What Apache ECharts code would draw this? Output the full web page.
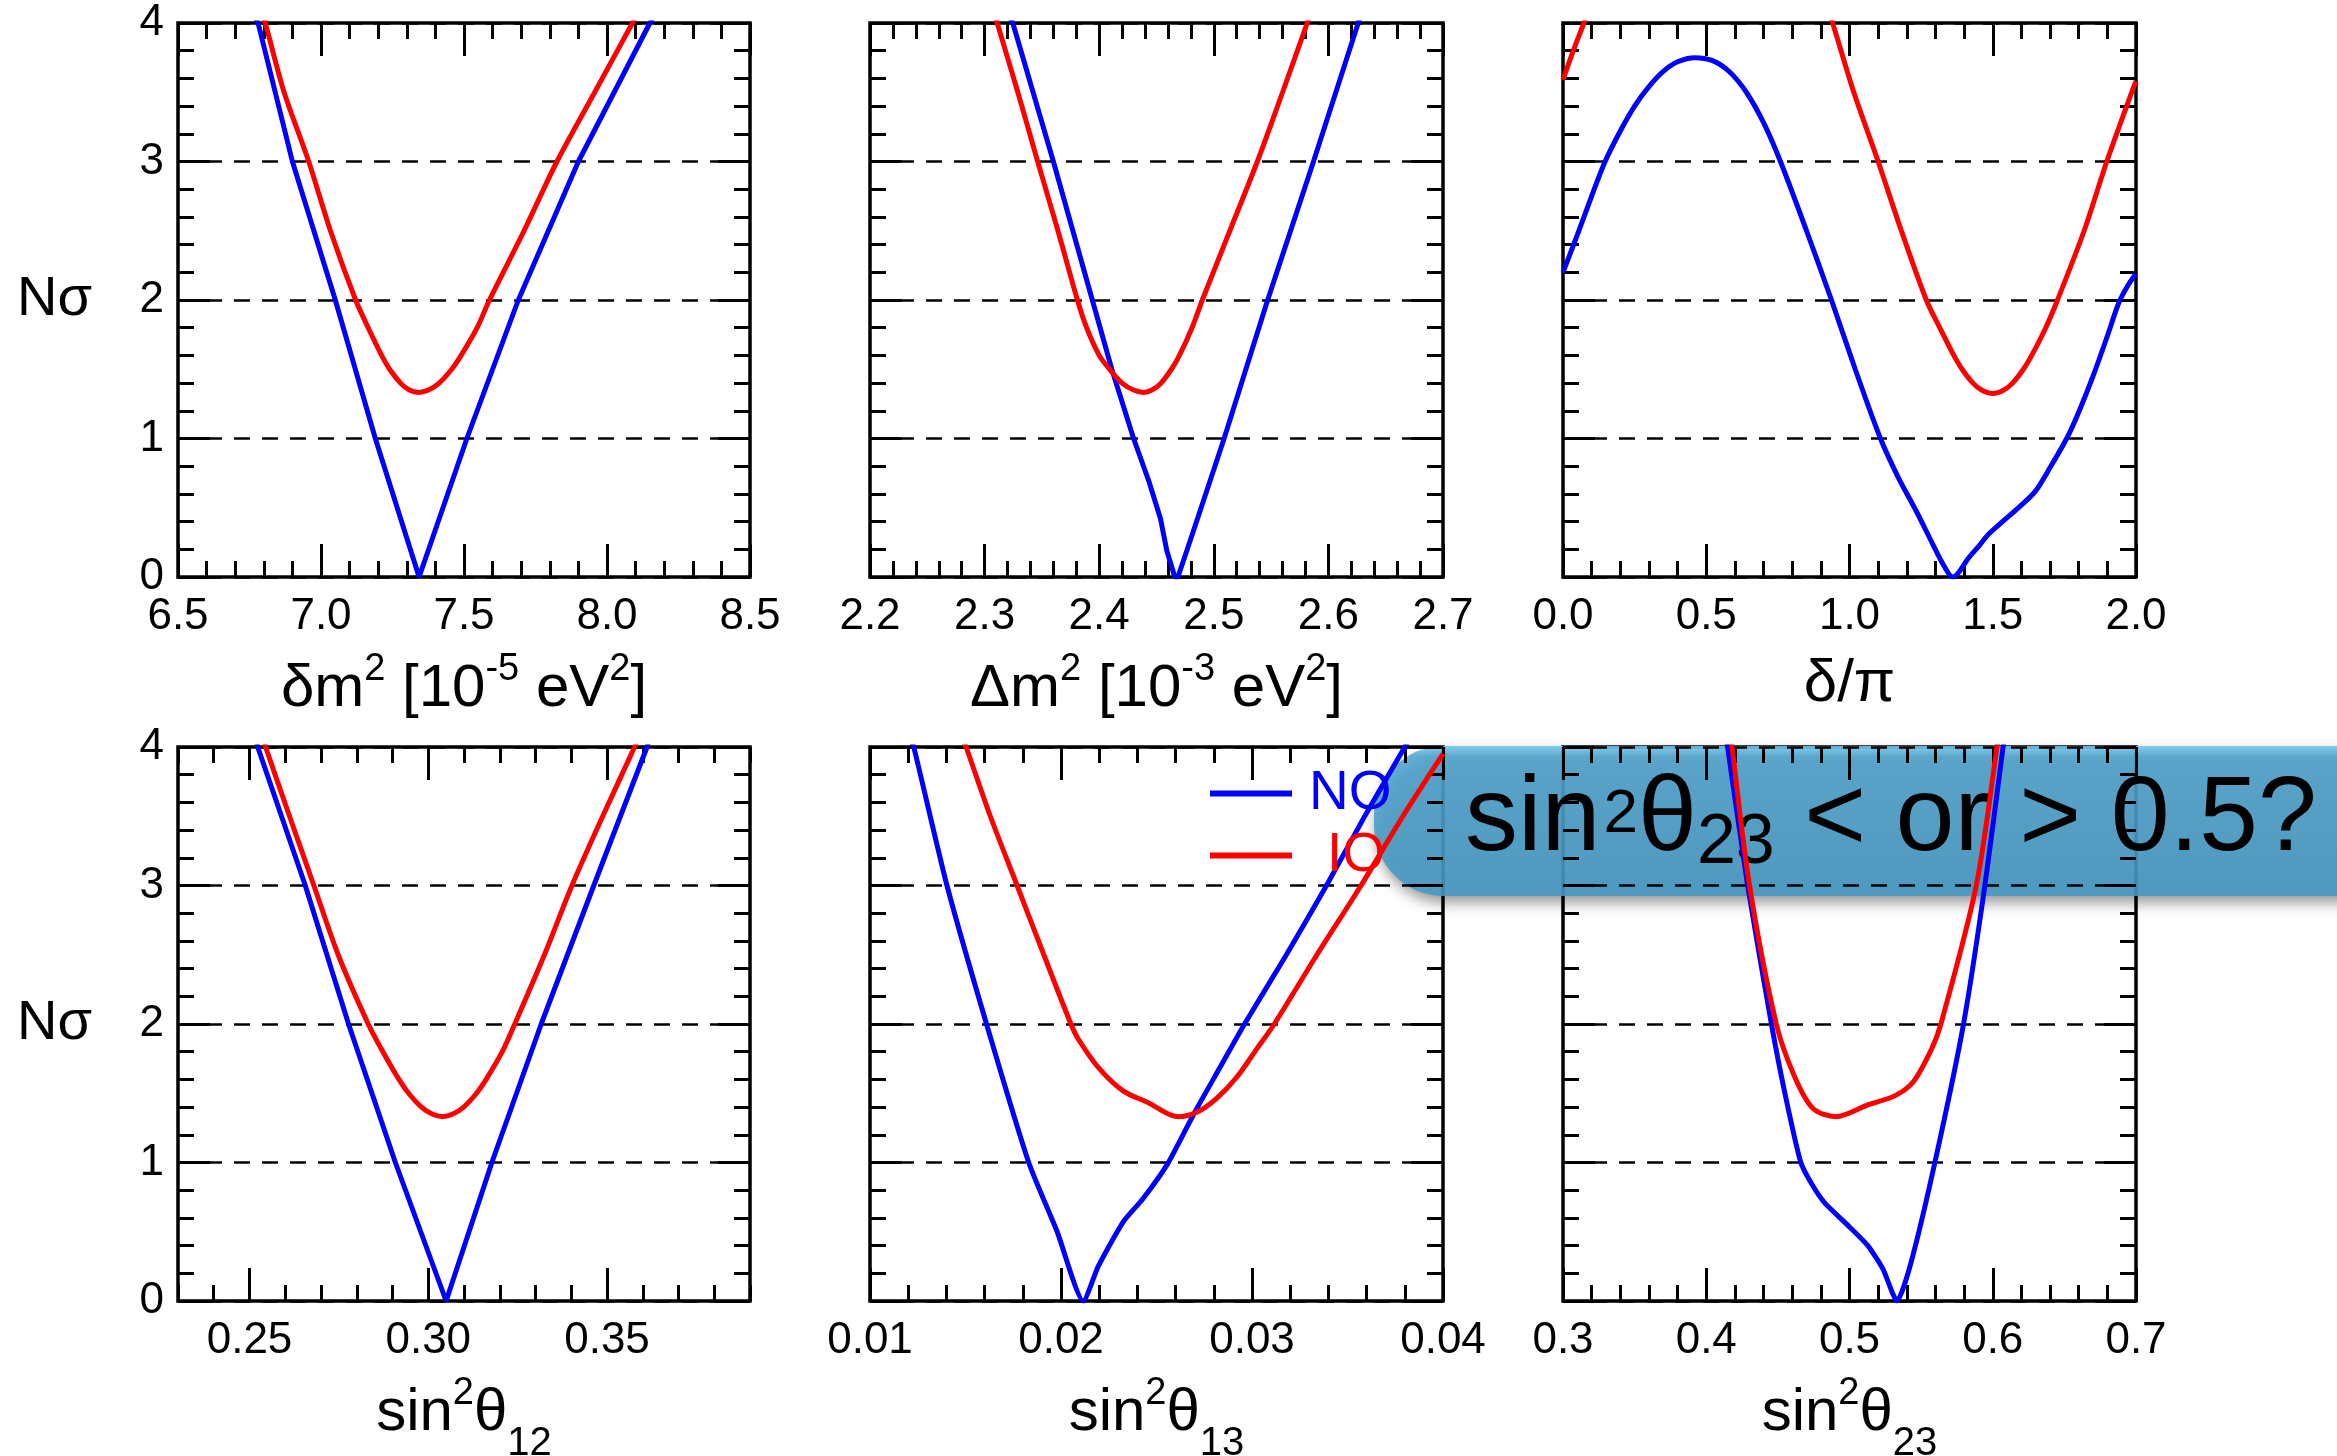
<!DOCTYPE html>
<html>
<head>
<meta charset="utf-8">
<script src="https://cdn.jsdelivr.net/npm/echarts@6/dist/echarts.min.js"></script>
<style>
  html, body { margin: 0; padding: 0; background: #ffffff; }
  #chart { width: 2337px; height: 1456px; }
</style>
</head>
<body>
<div id="chart"></div>
<script>
// ---------- one-parameter projections: N sigma versus each oscillation parameter ----------
// Each series is a list of [parameter value, N sigma]; NO = normal ordering, IO = inverted ordering.

// delta m^2 [1e-5 eV^2]
const dm21NO = [[6.76,4.08],[6.78,4.0],[6.90,3.0],[7.05,2.0],[7.19,1.0],[7.343,0.0],[7.51,1.0],[7.69,2.0],[7.90,3.0],[8.15,4.0],[8.17,4.07]];
const dm21IO = [[6.79,4.09],[6.805,4.0],[6.871,3.5],[6.957,3.0],[7.033,2.5],[7.121,2.0],[7.165,1.8],[7.212,1.6],[7.24,1.5],[7.278,1.4],[7.309,1.35],[7.34,1.333],[7.376,1.35],[7.413,1.4],[7.457,1.5],[7.49,1.6],[7.546,1.8],[7.589,2.0],[7.71,2.5],[7.825,3.0],[7.957,3.5],[8.089,4.0],[8.105,4.06]];

// Delta m^2 [1e-3 eV^2]
const dm31NO = [[2.32,4.07],[2.3246,4.0],[2.36,3.0],[2.394,2.0],[2.411,1.5],[2.430,1.0],[2.443,0.7],[2.4535,0.42],[2.459,0.19],[2.466,0.0],[2.4687,0.0],[2.4817,0.32],[2.509,1.0],[2.547,2.0],[2.587,3.0],[2.626,4.0],[2.629,4.07]];
const dm31IO = [[2.309,4.07],[2.311,4.0],[2.329,3.5],[2.3463,3.0],[2.364,2.5],[2.381,2.0],[2.389,1.8],[2.400,1.6],[2.409,1.5],[2.420,1.4],[2.430,1.35],[2.439,1.333],[2.446,1.35],[2.454,1.4],[2.463,1.5],[2.470,1.6],[2.481,1.8],[2.490,2.0],[2.514,2.5],[2.538,3.0],[2.560,3.5],[2.5815,4.0],[2.584,4.07]];

// CP phase delta / pi
const deltaNO = [[0,2.2],[0.05,2.47],[0.1,2.75],[0.147,3.0],[0.2,3.22],[0.25,3.40],[0.3,3.54],[0.35,3.65],[0.4,3.72],[0.46,3.75],[0.52,3.73],[0.58,3.65],[0.64,3.50],[0.70,3.28],[0.759,3.0],[0.85,2.5],[0.937,2.0],[1.02,1.5],[1.108,1.0],[1.17,0.72],[1.232,0.48],[1.29,0.24],[1.33,0.08],[1.36,0.0],[1.38,0.03],[1.413,0.13],[1.45,0.22],[1.486,0.31],[1.54,0.41],[1.595,0.51],[1.649,0.62],[1.70,0.79],[1.758,1.0],[1.80,1.19],[1.85,1.45],[1.90,1.74],[1.94,1.98],[1.97,2.1],[2.0,2.19]];
const deltaIO = [[0,3.59],[0.036,3.8],[0.073,4.0],[0.085,4.07],[0.5,'-'],[0.93,4.06],[0.941,4.0],[1.015,3.5],[1.10,3.0],[1.181,2.5],[1.268,2.0],[1.315,1.8],[1.364,1.6],[1.393,1.5],[1.431,1.4],[1.461,1.35],[1.50,1.325],[1.539,1.35],[1.569,1.4],[1.607,1.5],[1.636,1.6],[1.685,1.8],[1.726,2.0],[1.819,2.5],[1.898,3.0],[1.985,3.5],[2.0,3.58]];

// sin^2 theta_12
const s12NO = [[0.2518,4.07],[0.2523,4.0],[0.2656,3.0],[0.2777,2.0],[0.2908,1.0],[0.305,0.0],[0.3178,1.0],[0.3316,2.0],[0.3463,3.0],[0.3612,4.0],[0.3617,4.04]];
const s12IO = [[0.2540,4.05],[0.2545,4.0],[0.2612,3.5],[0.268,3.0],[0.2748,2.5],[0.2832,2.0],[0.2873,1.8],[0.2918,1.6],[0.2945,1.5],[0.2981,1.4],[0.3011,1.35],[0.304,1.331],[0.3069,1.35],[0.3099,1.4],[0.3135,1.5],[0.3162,1.6],[0.3207,1.8],[0.3242,2.0],[0.3325,2.5],[0.3402,3.0],[0.3488,3.5],[0.3577,4.0],[0.3583,4.04]];

// sin^2 theta_13
const s13NO = [[0.0121,4.06],[0.01229,4.0],[0.01403,3.0],[0.0161,2.0],[0.01831,1.0],[0.0198,0.5],[0.02117,0.0],[0.02195,0.25],[0.02325,0.57],[0.02429,0.738],[0.02558,0.99],[0.02701,1.365],[0.0283,1.68],[0.02961,2.0],[0.0318,2.5],[0.0339,3.0],[0.0359,3.5],[0.0380,4.0],[0.0382,4.05]];
const s13IO = [[0.0149,4.04],[0.01503,4.0],[0.0163,3.5],[0.0177,3.0],[0.0191,2.5],[0.02052,2.0],[0.02091,1.89],[0.02195,1.687],[0.02325,1.517],[0.02455,1.433],[0.0261,1.331],[0.02714,1.365],[0.02818,1.467],[0.02922,1.619],[0.03026,1.822],[0.03117,2.0],[0.0334,2.5],[0.03571,3.0],[0.0379,3.5],[0.04,3.95]];

// sin^2 theta_23
const s23NO = [[0.4142,4.05],[0.4149,4.0],[0.4289,3.0],[0.4455,2.0],[0.4549,1.5],[0.466,1.0],[0.4745,0.83],[0.483,0.705],[0.5,0.535],[0.5128,0.40],[0.5234,0.23],[0.5332,0.0],[0.5426,0.264],[0.5596,1.0],[0.5796,2.0],[0.5945,3.0],[0.6072,4.0],[0.6078,4.05]];
const s23IO = [[0.4175,4.05],[0.418,4.0],[0.4302,3.0],[0.4489,2.0],[0.4617,1.619],[0.4745,1.39],[0.4906,1.331],[0.5128,1.416],[0.5319,1.483],[0.5447,1.585],[0.5574,1.822],[0.5638,2.0],[0.5885,3.0],[0.603,4.0],[0.6036,4.05]];

// ---------- tick labels ----------
const dm21Ticks  = ['6.5', '7.0', '7.5', '8.0', '8.5'];
const dm31Ticks  = ['2.2', '2.3', '2.4', '2.5', '2.6', '2.7'];
const deltaTicks = ['0.0', '0.5', '1.0', '1.5', '2.0'];
const s12Ticks   = ['0.25', '0.30', '0.35'];
const s13Ticks   = ['0.01', '0.02', '0.03', '0.04'];
const s23Ticks   = ['0.3', '0.4', '0.5', '0.6', '0.7'];

// ---------- styling ----------
const FONT = "'Liberation Sans', Arial, Helvetica, sans-serif";
const BLUE = '#0000ff';
const RED = '#ff0000';
const TICK = { color: '#000', width: 3 };
const PLOT_H = 554;

// rich styles for axis titles (superscripts / subscripts)
const titleRich = {
  m:   { fontSize: 60, lineHeight: 100, fontFamily: FONT, color: '#000' },
  sup: { fontSize: 38, lineHeight: 38, fontFamily: FONT, color: '#000', verticalAlign: 'top', padding: [11, 0, 0, 0] },
  sub: { fontSize: 40, lineHeight: 40, fontFamily: FONT, color: '#000', verticalAlign: 'bottom' }
};

const panels = [
  { left: 178,  top: 23,  width: 572, xMin: 6.5,  xMax: 8.5,  minor: 0.1,  ticks: dm21Ticks,  gap: 57, yTitle: true,
    title: '{m|δm}{sup|2}{m| [10}{sup|-5}{m| eV}{sup|2}{m|]}', no: dm21NO, io: dm21IO, noSmooth: 0 },
  { left: 870,  top: 23,  width: 573, xMin: 2.2,  xMax: 2.7,  minor: 0.02, ticks: dm31Ticks,  gap: 57, yTitle: false,
    title: '{m|Δm}{sup|2}{m| [10}{sup|-3}{m| eV}{sup|2}{m|]}', no: dm31NO, io: dm31IO, noSmooth: 0 },
  { left: 1563, top: 23,  width: 573, xMin: 0,    xMax: 2,    minor: 0.1,  ticks: deltaTicks, gap: 57, yTitle: false,
    title: '{m|δ/π}', no: deltaNO, io: deltaIO, noSmooth: 0.3 },
  { left: 178,  top: 747, width: 572, xMin: 0.23, xMax: 0.39, minor: 0.01, ticks: s12Ticks,   gap: 52, yTitle: true,
    title: '{m|sin}{sup|2}{m|θ}{sub|12}', no: s12NO, io: s12IO, noSmooth: 0 },
  { left: 870,  top: 747, width: 573, xMin: 0.01, xMax: 0.04, minor: 0.002, ticks: s13Ticks,  gap: 52, yTitle: false,
    title: '{m|sin}{sup|2}{m|θ}{sub|13}', no: s13NO, io: s13IO, noSmooth: 0.2 },
  { left: 1563, top: 747, width: 573, xMin: 0.3,  xMax: 0.7,  minor: 0.02, ticks: s23Ticks,   gap: 52, yTitle: false,
    title: '{m|sin}{sup|2}{m|θ}{sub|23}', no: s23NO, io: s23IO, noSmooth: 0.2 }
];

const grid = [], xAxis = [], yAxis = [], series = [];
const NO_LINE = { show: false, onZero: false };

panels.forEach((p, i) => {
  grid.push({
    left: p.left, top: p.top, width: p.width, height: PLOT_H,
    containLabel: false, outerBoundsMode: 'none',
    show: true, borderColor: '#000', borderWidth: 3.5, backgroundColor: 'transparent'
  });

  const majors = p.ticks.map(Number);
  const fmt = v => {
    const k = majors.findIndex(t => Math.abs(t - v) < 1e-9);
    return k < 0 ? '' : p.ticks[k];
  };

  // x axes: minor + major ticks on bottom and top, ticks pointing inward
  ['bottom', 'top'].forEach(pos => {
    xAxis.push({
      gridIndex: i, type: 'value', position: pos, min: p.xMin, max: p.xMax, interval: p.minor,
      axisLine: NO_LINE,
      axisTick: { show: true, inside: true, length: 16, lineStyle: TICK },
      axisLabel: { show: false }, splitLine: { show: false }
    });
    xAxis.push({
      gridIndex: i, type: 'value', position: pos, min: p.xMin, max: p.xMax,
      axisLine: NO_LINE,
      axisTick: { show: true, inside: true, length: 33, customValues: majors, lineStyle: TICK },
      axisLabel: {
        show: pos === 'bottom', customValues: majors, formatter: fmt,
        fontSize: 44, color: '#000', fontFamily: FONT, margin: 18
      },
      splitLine: { show: false },
      name: pos === 'bottom' ? p.title : '',
      nameLocation: 'middle', nameGap: p.gap,
      nameTextStyle: { rich: titleRich, fontFamily: FONT }
    });
  });

  // y axes: minor (0.2) + major (1) ticks on left and right
  ['left', 'right'].forEach(pos => {
    yAxis.push({
      gridIndex: i, type: 'value', position: pos, min: 0, max: 4, interval: 0.2,
      axisLine: NO_LINE,
      axisTick: { show: true, inside: true, length: 16, lineStyle: TICK },
      axisLabel: { show: false }, splitLine: { show: false }
    });
    const withTitle = pos === 'left' && p.yTitle;
    yAxis.push({
      gridIndex: i, type: 'value', position: pos, min: 0, max: 4, interval: 1,
      axisLine: NO_LINE,
      axisTick: { show: true, inside: true, length: 32, lineStyle: TICK },
      axisLabel: { show: withTitle, fontSize: 44, color: '#000', fontFamily: FONT, margin: 14 },
      splitLine: { show: pos === 'left', lineStyle: { color: '#000', width: 2.5, type: [16, 12] } },
      name: withTitle ? 'Nσ' : '',
      nameLocation: 'middle', nameRotate: 0, nameGap: 86,
      nameTextStyle: { fontSize: 56, color: '#000', fontFamily: FONT }
    });
  });

  const xi = 4 * i, yi = 4 * i;
  series.push({
    name: 'NO', type: 'line', xAxisIndex: xi, yAxisIndex: yi, data: p.no,
    symbol: 'none', smooth: p.noSmooth, clip: true,
    lineStyle: { color: BLUE, width: 5 }, itemStyle: { color: BLUE }, z: 3
  });
  series.push({
    name: 'IO', type: 'line', xAxisIndex: xi, yAxisIndex: yi, data: p.io,
    symbol: 'none', smooth: 0.3, clip: true,
    lineStyle: { color: RED, width: 5 }, itemStyle: { color: RED }, z: 3
  });
});

// callout banner over the lower-right panels
const bannerRich = {
  m: { fontSize: 106, lineHeight: 140, fontFamily: FONT, color: '#000' },
  s: { fontSize: 62, lineHeight: 62, fontFamily: FONT, color: '#000', verticalAlign: 'top', padding: [33, 0, 0, 3] },
  b: { fontSize: 70, lineHeight: 70, fontFamily: FONT, color: '#000', verticalAlign: 'bottom', padding: [0, 0, 12, 0] }
};

const option = {
  animation: false,
  backgroundColor: '#ffffff',
  color: [BLUE, RED],
  grid, xAxis, yAxis, series,
  legend: {
    orient: 'vertical', left: 1205, top: 761,
    icon: 'rect', itemWidth: 82, itemHeight: 6, itemGap: 7,
    selectedMode: false,
    textStyle: { fontSize: 55, lineHeight: 55, fontFamily: FONT },
    data: [
      { name: 'NO', textStyle: { color: BLUE, padding: [0, 0, 0, 12] } },
      { name: 'IO', textStyle: { color: RED, padding: [0, 0, 0, 30] } }
    ]
  },
  graphic: [{
    type: 'group', z: 100,
    children: [
      {
        type: 'rect',
        shape: { x: 1374, y: 746, width: 1100, height: 150, r: [70, 0, 0, 70] },
        style: {
          fill: {
            type: 'linear', x: 0, y: 0, x2: 0, y2: 1,
            colorStops: [
              { offset: 0, color: 'rgba(120,200,238,0.9)' },
              { offset: 0.07, color: 'rgba(80,165,207,0.88)' },
              { offset: 1, color: 'rgba(70,152,195,0.88)' }
            ]
          },
          shadowBlur: 14, shadowOffsetX: 2, shadowOffsetY: 7, shadowColor: 'rgba(0,0,0,0.45)'
        }
      },
      {
        type: 'text', x: 1465, y: 751,
        style: {
          text: '{m|sin}{s|2}{m|θ}{b|23}{m| < or > 0.5?}',
          rich: bannerRich, align: 'left', verticalAlign: 'top'
        }
      }
    ]
  }]
};

const chart = echarts.init(document.getElementById('chart'), null, { renderer: 'canvas' });
chart.setOption(option);
</script>
</body>
</html>
